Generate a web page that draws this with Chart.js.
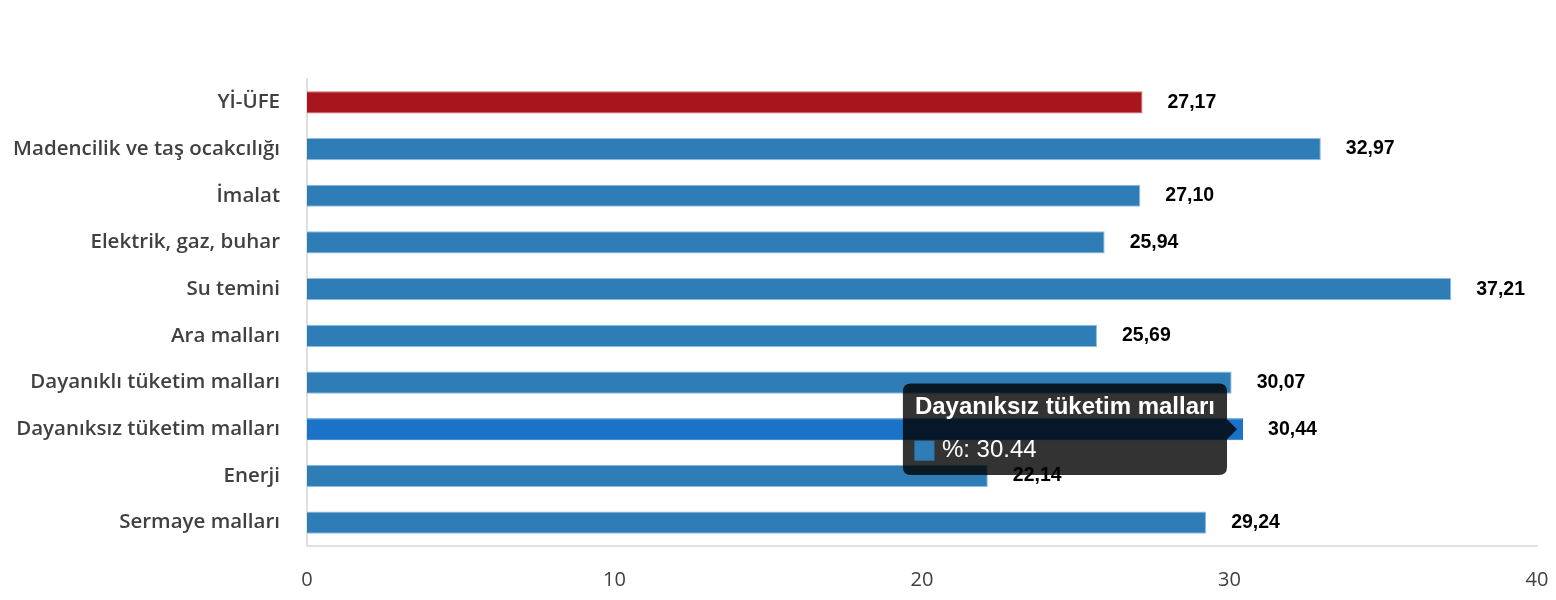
<!DOCTYPE html>
<html>
<head>
<meta charset="utf-8">
<script src="https://cdn.jsdelivr.net/npm/chart.js@4.4.1/dist/chart.umd.min.js"></script>
<style>
html,body{margin:0;padding:0;background:#fff;}
#wrap{width:1556px;height:600px;position:relative;}
</style>
</head>
<body>
<div id="wrap"><canvas id="c"></canvas></div>
<script>
const categories = ["Yİ-ÜFE","Madencilik ve taş ocakcılığı","İmalat","Elektrik, gaz, buhar","Su temini","Ara malları","Dayanıklı tüketim malları","Dayanıksız tüketim malları","Enerji","Sermaye malları"];
const values = [27.17,32.97,27.10,25.94,37.21,25.69,30.07,30.44,22.14,29.24];
const xTicks = [0,10,20,30,40];
const seriesLabel = "%";

const BLUE = "#2f7db6", RED = "#a8151c";
const colors = categories.map((c,i)=> i===0 ? RED : BLUE);
const hoverColors = categories.map((c,i)=> i===0 ? RED : "#1a73c6");
const borderColors = categories.map((c,i)=> i===0 ? "#d9686d" : "#8fbde0");

const valueLabels = {
  id:'valueLabels',
  afterDraw(chart){
    const ctx = chart.ctx;
    const meta = chart.getDatasetMeta(0);
    ctx.save();
    ctx.font = "bold 19.5px 'Liberation Sans', Arial, sans-serif";
    ctx.fillStyle = "#000";
    ctx.textAlign = "left";
    ctx.textBaseline = "middle";
    meta.data.forEach((bar,i)=>{
      ctx.fillText(values[i].toFixed(2).replace('.',','), bar.x + 25, bar.y);
    });
    ctx.restore();
  }
};

const chart = new Chart(document.getElementById('c'), {
  type:'bar',
  data:{
    labels:categories,
    datasets:[{
      label:seriesLabel,
      data:values,
      backgroundColor:colors,
      hoverBackgroundColor:hoverColors,
      borderColor:borderColors,
      hoverBorderColor:hoverColors,
      borderWidth:{top:1,bottom:1,right:1,left:0},
      borderSkipped:'left',
      barPercentage:0.5,
      categoryPercentage:0.95
    }]
  },
  options:{
    indexAxis:'y',
    responsive:true,
    maintainAspectRatio:false,
    animation:false,
    layout:{padding:{top:79,right:19,left:0,bottom:0}},
    plugins:{
      legend:{display:false},
      tooltip:{
        enabled:true,
        backgroundColor:'rgba(0,0,0,0.8)',
        titleFont:{family:"'Liberation Sans', Arial, sans-serif",size:24,weight:'bold'},
        bodyFont:{family:"'Liberation Sans', Arial, sans-serif",size:24},
        padding:{top:10,bottom:10,left:12,right:12},
        cornerRadius:8,
        caretSize:10,
        caretPadding:6,
        boxWidth:19,
        boxHeight:19,
        boxPadding:6,
        multiKeyBackground:BLUE,
        titleMarginBottom:14,
        xAlign:'right',
        callbacks:{
          label:(c)=> c.dataset.label + ': ' + c.parsed.x,
          labelColor:()=>({borderColor:BLUE,backgroundColor:BLUE,borderWidth:1})
        }
      }
    },
    scales:{
      x:{
        min:0,max:40,
        afterBuildTicks:(s)=>{ s.ticks = xTicks.map(v=>({value:v})); },
        afterFit:(s)=>{ s.height = 54; s.paddingRight = 0; s.paddingLeft = 0; },
        grid:{display:false,drawTicks:false},
        border:{display:true,color:'#e0e0e0',width:2},
        ticks:{color:'#404040',padding:22,font:{family:"'Open Sans', 'Noto Sans', sans-serif",size:20}}
      },
      y:{
        afterFit:(s)=>{ s.width = 307; s.paddingTop = 0; s.paddingBottom = 0; },
        grid:{display:false,drawTicks:false},
        border:{display:true,color:'#e0e0e0',width:2},
        ticks:{color:'#404040',padding:27,font:{family:"'Open Sans', 'Noto Sans', sans-serif",size:20.5,weight:'600'}}
      }
    }
  },
  plugins:[valueLabels]
});

const el = chart.getDatasetMeta(0).data[7];
chart.setActiveElements([{datasetIndex:0,index:7}]);
chart.tooltip.setActiveElements([{datasetIndex:0,index:7}],{x:el.x,y:el.y});
chart.update('none');
</script>
</body>
</html>
